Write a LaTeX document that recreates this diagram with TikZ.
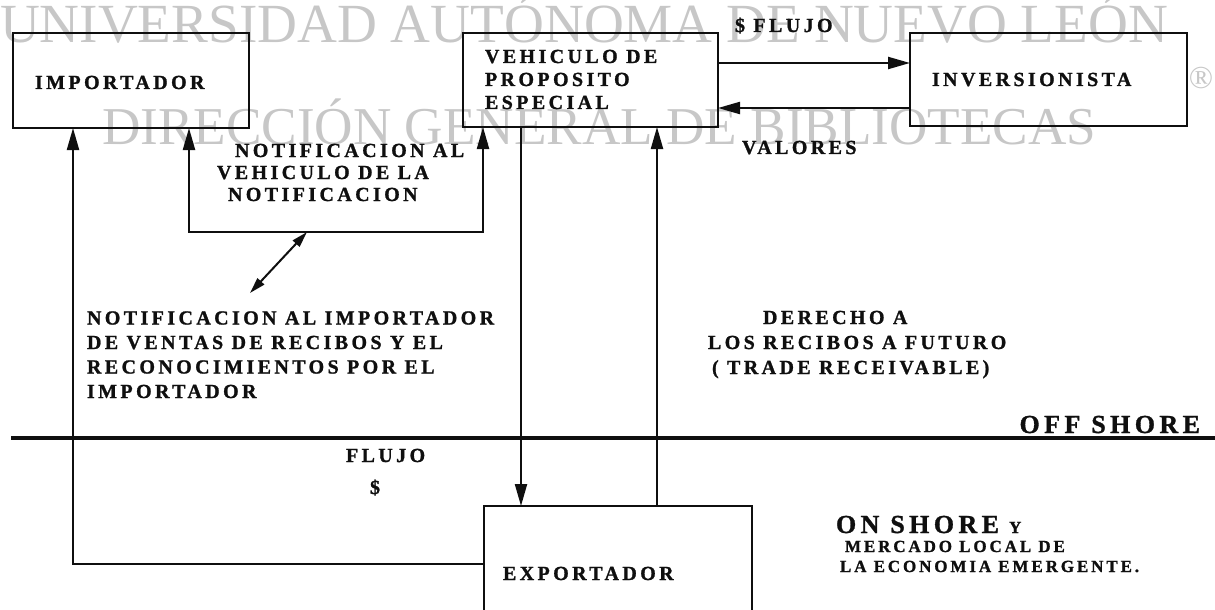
\documentclass[tikz,border=0pt]{standalone}
\usepackage{fontspec}
\usetikzlibrary{arrows.meta,fit}
\newfontfamily\flowfont{Liberation Serif}[LetterSpace=17, BoldFeatures={FakeBold=1.2}]
\newfontfamily\markfont{Liberation Serif}
\definecolor{FlowInk}{gray}{0.06}
\definecolor{FlowMark}{gray}{0.78}
\tikzset{
    flow/diagram/.style={
        x=0.5pt, y=-0.5pt,
        draw=FlowInk,
        text=FlowInk,
        line join=miter,
        every node/.style={inner sep=0pt, outer sep=0pt}
    },
    flow/box/.style={draw=FlowInk, line width=1.4pt, inner sep=0pt},
    flow/plain/.style={draw=FlowInk, line width=1.1pt},
    flow/link/.style={
        draw=FlowInk, line width=1.1pt,
        -{Triangle[length=11pt, width=6pt]}
    },
    flow/bothways/.style={
        draw=FlowInk, line width=1.1pt,
        {Triangle[length=11pt, width=6pt]}-{Triangle[length=11pt, width=6pt]}
    },
    flow/twoway/.style={
        draw=FlowInk, line width=1pt,
        {Triangle[length=8pt, width=4.5pt]}-{Triangle[length=8pt, width=4.5pt]}
    },
    flow/shore/.style={draw=FlowInk, line width=1.6pt},
    flow/label/.style={anchor=base west,
        font=\flowfont\bfseries\fontsize{10}{12}\selectfont},
    flow/big/.style={anchor=base west,
        font=\flowfont\bfseries\fontsize{13}{15}\selectfont},
    flow/small/.style={anchor=base west,
        font=\flowfont\bfseries\fontsize{8.5}{10}\selectfont},
    flow/mark/.style={anchor=base west, text=FlowMark,
        font=\markfont\fontsize{27.6}{30}\selectfont}
}

\begin{document}
\begin{tikzpicture}[flow/diagram]
    \useasboundingbox (0,0) rectangle (1215,610);
    % watermark of the scan
    \node[flow/mark] (markA) at (0,43) {UNIVERSIDAD AUTÓNOMA DE NUEVO LEÓN};
    \node[flow/mark, font=\markfont\fontsize{26.6}{30}\selectfont]
        (markB) at (102,145) {DIRECCIÓN GENERAL DE BIBLIOTECAS};
    \node[flow/mark, anchor=center, font=\markfont\fontsize{16}{18}\selectfont]
        (markR) at (1201,78) {®};

    % boxes
    \node[flow/box, fit={(13,33) (249,128)}] (imp) {};
    \node[flow/box, fit={(463,33) (718,127)}] (vpe) {};
    \node[flow/box, fit={(910,33) (1187,126)}] (inv) {};
    \node[flow/box, fit={(484,506) (752,640)}] (exp) {};
    \node[flow/label] (impT) at (35,89) {IMPORTADOR};
    \node[flow/label] (vpeA) at (485,63) {VEHICULO DE};
    \node[flow/label] (vpeB) at (485,86) {PROPOSITO};
    \node[flow/label] (vpeC) at (485,109) {ESPECIAL};
    \node[flow/label] (invT) at (932,86) {INVERSIONISTA};
    \node[flow/label] (expT) at (503,580) {EXPORTADOR};

    % bend points
    \coordinate (bendL) at (73,564);
    \coordinate (noteL) at (189,232);
    \coordinate (noteR) at (483,232);
    \coordinate (noteD) at (307,232);
    \coordinate (blockD) at (250,293);
    \coordinate (downX) at (521,0);
    \coordinate (upX) at (657,0);
    \coordinate (flowY) at (0,63);
    \coordinate (backY) at (0,108);
    \coordinate (shoreL) at (11,438);
    \coordinate (shoreR) at (1215,438);

    % connectors
    \draw[flow/link] (exp.west |- bendL) -- (bendL) -- (imp.south -| bendL);
    \draw[flow/bothways] (imp.south -| noteL) -- (noteL) -- (noteR)
        -- (vpe.south -| noteR);
    \draw[flow/twoway] (noteD) -- (blockD);
    \draw[flow/link] (vpe.south -| downX) -- (exp.north -| downX);
    \draw[flow/link] (exp.north -| upX) -- (vpe.south -| upX);
    \draw[flow/link] (vpe.east |- flowY) -- (inv.west |- flowY);
    \draw[flow/link] (inv.west |- backY) -- (vpe.east |- backY);
    \draw[flow/shore] (shoreL) -- (shoreR);

    % labels
    \node[flow/label] (cashFlow) at (735,32) {\$ FLUJO};
    \node[flow/label] (valores) at (742,154) {VALORES};
    \node[flow/label] (noteA) at (235,157) {NOTIFICACION AL};
    \node[flow/label] (noteB) at (217,179) {VEHICULO DE LA};
    \node[flow/label] (noteC) at (228,201) {NOTIFICACION};
    \foreach \txt [count=\i] in {NOTIFICACION AL IMPORTADOR,
        DE VENTAS DE RECIBOS Y EL, RECONOCIMIENTOS POR EL, IMPORTADOR}
        \node[flow/label] (notice\i) at (87,{300+24.5*\i}) {\txt};
    \node[flow/label] (rightA) at (763,324) {DERECHO A};
    \node[flow/label] (rightB) at (708,349) {LOS RECIBOS A FUTURO};
    \node[flow/label] (rightC) at (712,374) {( TRADE RECEIVABLE)};
    \node[flow/big, anchor=base east] (offShore) at (1200,433) {OFF SHORE};
    \node[flow/label] (flujo) at (346,462) {FLUJO};
    \node[flow/label] (dollar) at (370,494) {\$};
    \node[flow/big] (onShore) at (836,533) {ON SHORE};
    \node[flow/small] (onY) at ([xshift=5pt]onShore.base east) {Y};
    \node[flow/small] (market) at (845,552) {MERCADO LOCAL DE};
    \node[flow/small] (economy) at (840,572) {LA ECONOMIA EMERGENTE.};
\end{tikzpicture}
\end{document}
